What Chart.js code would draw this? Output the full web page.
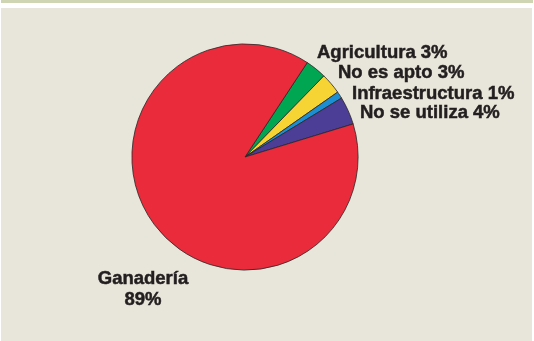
<!DOCTYPE html>
<html>
<head>
<meta charset="utf-8">
<script src="https://cdn.jsdelivr.net/npm/chart.js@4.4.1/dist/chart.umd.min.js"></script>
<style>
  html, body { margin: 0; padding: 0; background: #ffffff; }
  #wrap { position: relative; width: 534px; height: 341px; overflow: hidden; }
  #topbar { position: absolute; left: 1px; top: 0; width: 532px; height: 3px; background: #cfd5b2; }
  #panel { position: absolute; left: 1px; top: 8px; width: 531px; height: 333px; background: #e8e6da; }
  #myChart { position: absolute; left: 0; top: 0; }
</style>
</head>
<body>
<div id="wrap">
  <div id="topbar"></div>
  <div id="panel"></div>
  <canvas id="myChart" width="534" height="341"></canvas>
</div>
<script>
const categories = ['Agricultura', 'No es apto', 'Infraestructura', 'No se utiliza', 'Ganadería'];
const shares = [3, 3, 1, 4, 89];
const sliceColors = ['#00a651', '#f6d433', '#1b8fd2', '#4c3d96', '#e92b3b'];

// label anchors, offsets from the pie centre (px)
const labelPlacement = [
    { dx: 72, dy: -104, align: 'left' },
    { dx: 93, dy: -84, align: 'left' },
    { dx: 107, dy: -63, align: 'left' },
    { dx: 115, dy: -44, align: 'left' },
    { dx: -102, dy: 122, align: 'center', split: true }
];

const sliceLabels = {
    id: 'sliceLabels',
    afterDraw(chart) {
        const arc = chart.getDatasetMeta(0).data[0];
        const ctx = chart.ctx;
        ctx.save();
        ctx.fillStyle = '#231f20';
        ctx.strokeStyle = '#231f20';
        ctx.lineWidth = 0.5;
        ctx.font = "bold 18.5px 'Liberation Sans', Arial, sans-serif";
        ctx.textBaseline = 'middle';
        const put = (txt, x, y) => {
            ctx.fillText(txt, x, y);
            ctx.strokeText(txt, x, y);
        };
        categories.forEach((name, i) => {
            const p = labelPlacement[i];
            const pct = shares[i] + '%';
            ctx.textAlign = p.align;
            if (p.split) {
                put(name, arc.x + p.dx, arc.y + p.dy);
                put(pct, arc.x + p.dx, arc.y + p.dy + 21);
            } else {
                put(name + ' ' + pct, arc.x + p.dx, arc.y + p.dy);
            }
        });
        ctx.restore();
    }
};

const ctx = document.getElementById('myChart').getContext('2d');
const myChart = new Chart(ctx, {
    type: 'pie',
    data: {
        labels: categories,
        datasets: [{
            data: shares,
            backgroundColor: sliceColors,
            borderColor: '#2a2626',
            borderWidth: 0.8,
            borderAlign: 'center'
        }]
    },
    options: {
        responsive: false,
        animation: false,
        rotation: 33.4,
        layout: {
            padding: { left: 95, right: 139, top: 43.5, bottom: 70.5 }
        },
        plugins: {
            legend: { display: false },
            tooltip: { enabled: false }
        }
    },
    plugins: [sliceLabels]
});
</script>
</body>
</html>
